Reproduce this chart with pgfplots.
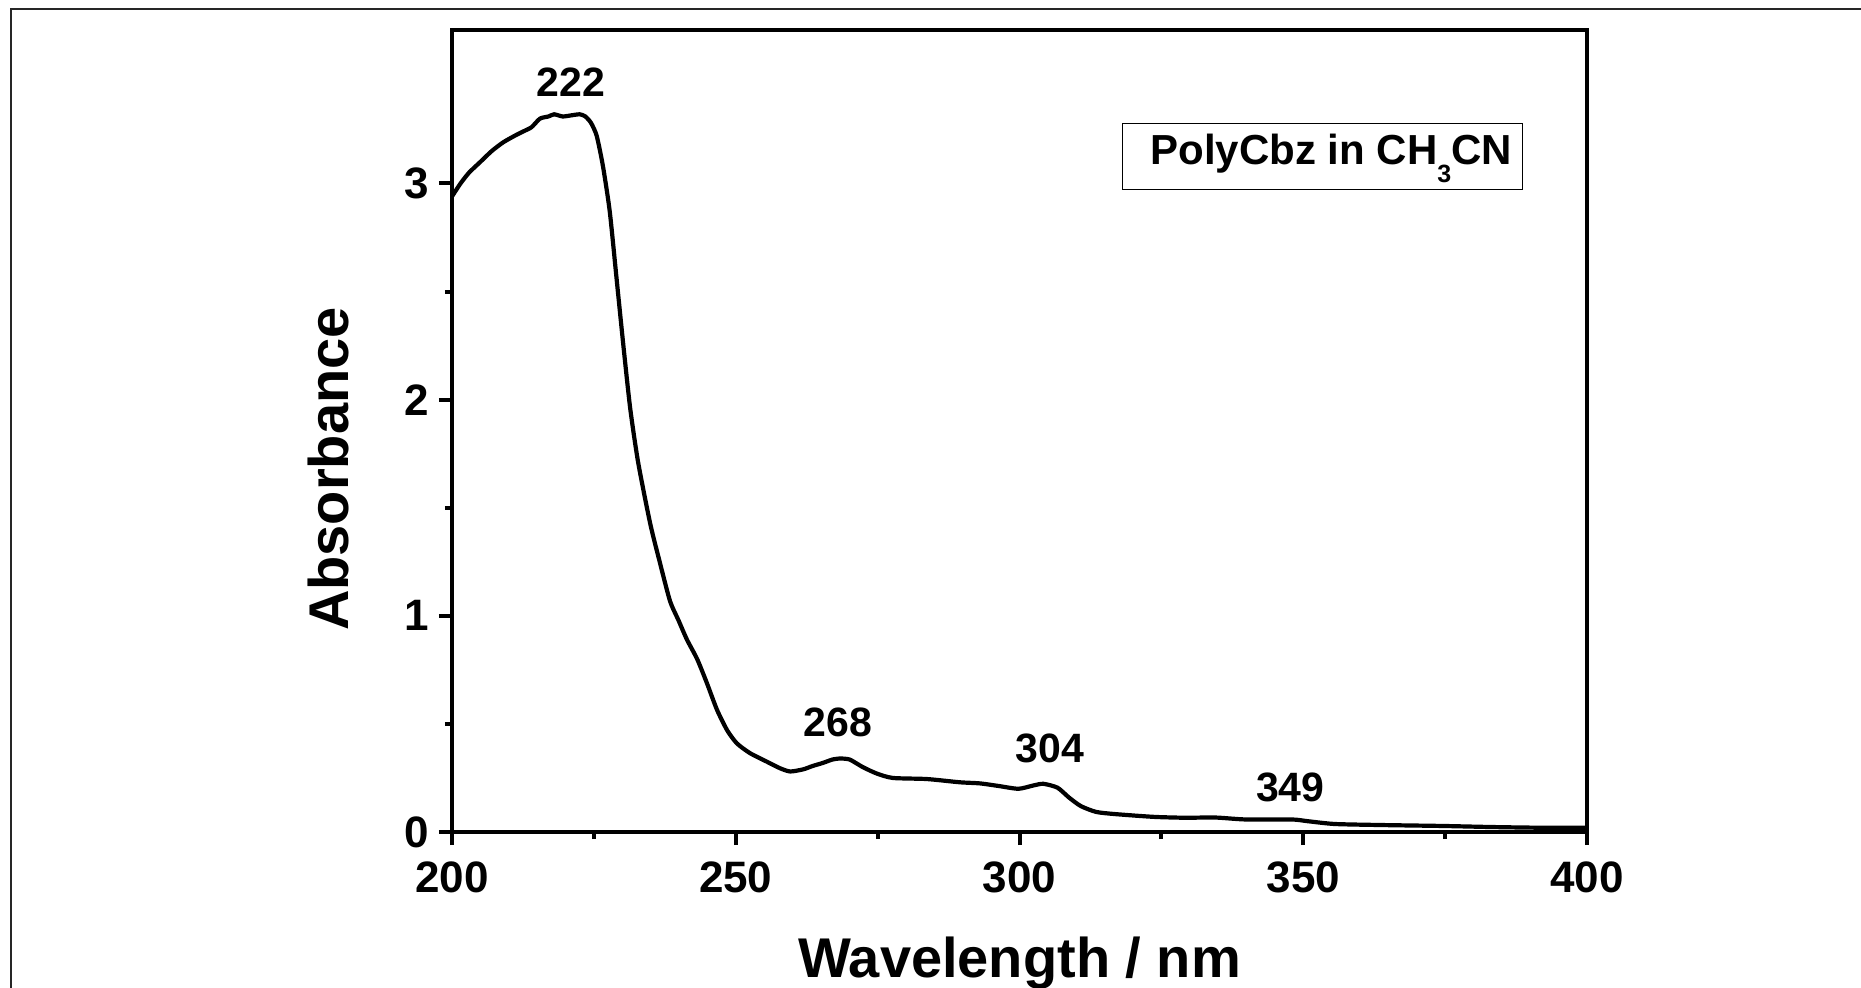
\documentclass[border=0pt]{standalone}
\usepackage{fontspec}
\setmainfont{Liberation Sans}
\usepackage{pgfplots}
\pgfplotsset{compat=1.18}
\begin{document}
\begin{tikzpicture}
\useasboundingbox (-226pt,-77.5pt) rectangle (704.5pt,416pt);
\begin{axis}[
  at={(0,0)}, anchor=south west,
  scale only axis,
  width=567.5pt, height=401pt,
  xmin=200, xmax=400, ymin=0, ymax=3.71,
  xtick={200,250,300,350,400},
  ytick={0,1,2,3},
  minor x tick num=1,
  minor y tick num=1,
  xtick pos=left, ytick pos=left,
  tick align=outside,
  major tick length=6.5pt,
  minor tick length=3.5pt,
  every tick/.style={line width=2pt, black},
  axis line style={line width=2.3pt},
  /pgf/number format/assume math mode=true,
  ticklabel style={font=\bfseries\fontsize{22}{22}\selectfont},
  xticklabel style={yshift=-5pt},
  yticklabel style={xshift=-1.5pt},
  xlabel={Wavelength / nm},
  ylabel={Absorbance},
  label style={font=\bfseries\fontsize{28}{28}\selectfont},
  xlabel style={at={(axis description cs:0.5,-0.182)}, anchor=base},
  ylabel style={at={(axis description cs:-0.0916,0.4526)}, anchor=base, rotate=0},
  clip=false,
]
\addplot[black, line width=2.1pt, smooth, tension=0.4] coordinates {
(200,2.94) (201.5,3.00) (203,3.05) (205,3.10) (207,3.15) (209,3.19)
(211,3.22) (212.5,3.24) (214,3.26) (215.5,3.30) (217,3.31) (218,3.32)
(219.5,3.31) (221,3.315) (222.5,3.32) (223.5,3.31) (224.5,3.28)
(225.5,3.22) (226.6,3.08) (227.8,2.87) (229,2.56) (230.2,2.25)
(231.4,1.96) (232.8,1.71) (234.9,1.43) (236.5,1.26) (238.4,1.07)
(239.9,0.98) (241.4,0.89) (243.2,0.80) (244.9,0.69) (246.7,0.565)
(248.5,0.47) (250.2,0.41) (252.5,0.365) (255.5,0.325) (257.8,0.295)
(259.6,0.28) (261.9,0.29) (263.5,0.305) (265.4,0.32) (267,0.335)
(268.4,0.34) (270.1,0.335) (272.4,0.30) (274.9,0.27) (277.7,0.25)
(283.7,0.245) (289.5,0.23) (293,0.225) (296.3,0.213) (299.8,0.20)
(302.4,0.215) (304.2,0.223) (306.7,0.205) (308.7,0.16) (310.8,0.12)
(313.5,0.093) (316.8,0.083) (323.7,0.07) (329.2,0.066) (334.5,0.067)
(339.9,0.058) (348,0.058) (350.8,0.05) (355.6,0.037) (364.4,0.032)
(374.5,0.028) (383.3,0.023) (391.4,0.02) (400,0.02)
};
\begin{scope}[every node/.style={font=\bfseries\fontsize{20.5}{20.5}\selectfont, inner sep=0pt}]
\node at (axis cs:221,3.47) {222};
\node at (axis cs:268,0.509) {268};
\node at (axis cs:305.4,0.389) {304};
\node at (axis cs:347.7,0.208) {349};
\end{scope}
\draw[line width=0.6pt] (axis cs:318.2,2.972) rectangle (axis cs:388.7,3.278);
\node[anchor=base west, inner sep=0pt, font=\bfseries\fontsize{21}{21}\selectfont]
  at (axis cs:323,3.088) {PolyCbz in CH\raisebox{-9pt}{\fontsize{12.5}{12.5}\selectfont 3}CN};
\end{axis}
\draw[line width=1pt, black!85] (-220.5pt,-80pt) -- (-220.5pt,411.5pt) -- (706pt,411.5pt);
\end{tikzpicture}
\end{document}
